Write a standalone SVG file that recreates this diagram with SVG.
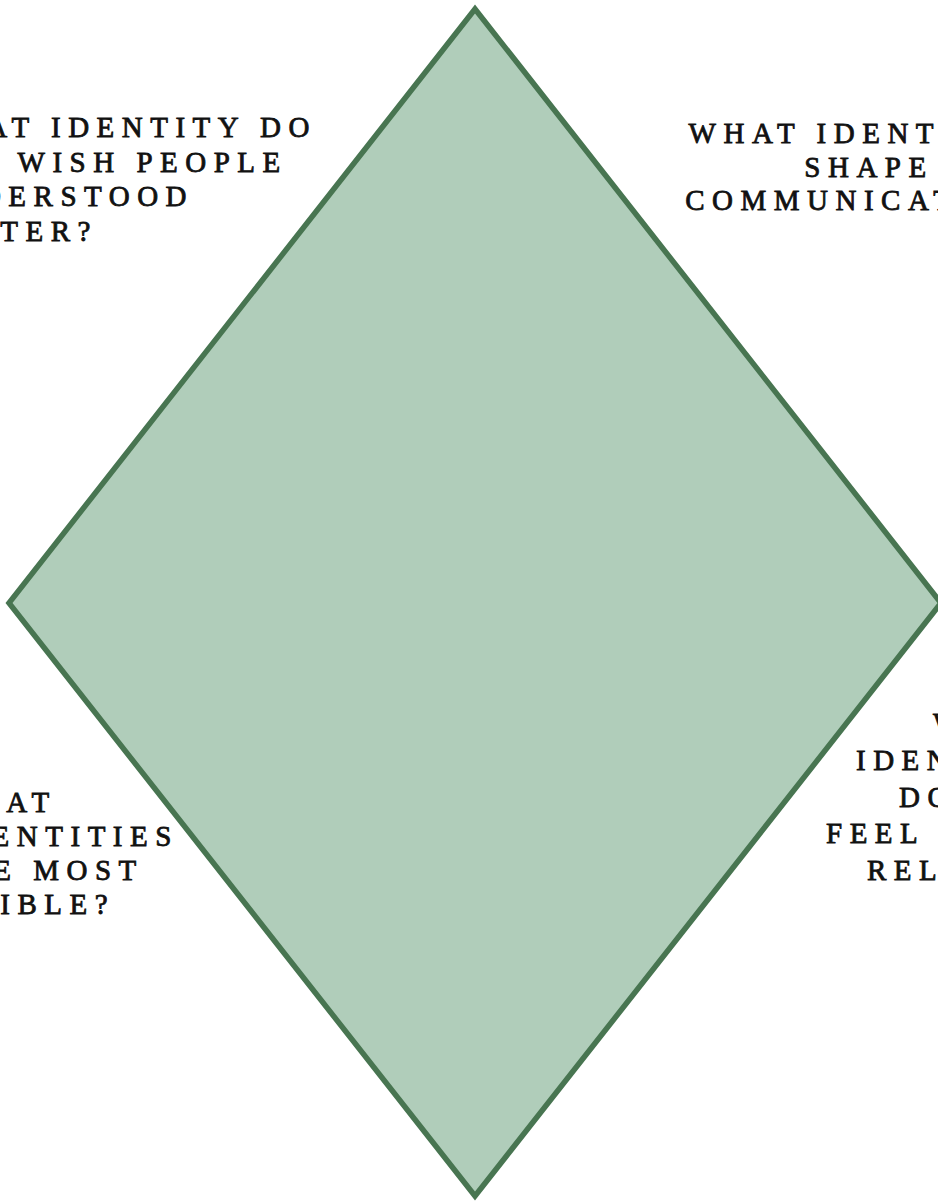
<svg xmlns="http://www.w3.org/2000/svg" width="938" height="1201" viewBox="0 0 938 1201">
  <style>
    .q { font-family: "Liberation Serif", "Times New Roman", serif; font-size: 29px; letter-spacing: 7.5px; fill: #111111; stroke: #111111; stroke-width: 0.8; }
    .diamond { fill: #b0cdba; stroke: #487551; stroke-width: 5.5; stroke-linejoin: miter; }
  </style>
  <rect x="0" y="0" width="938" height="1201" fill="#ffffff"/>
  <g id="diamond">
    <polygon class="diamond" points="475,9 941,603 475,1196 9,603"/>
  </g>
  <g id="connectors"></g>
  <g id="q-top-left">
    <text class="q" x="-77" y="137">WHAT IDENTITY DO</text>
    <text class="q" x="-82" y="171.5">YOU WISH PEOPLE</text>
    <text class="q" x="-77" y="206">UNDERSTOOD</text>
    <text class="q" x="-77" y="240.5">BETTER?</text>
  </g>
  <g id="q-top-right">
    <text class="q" x="869" y="143" text-anchor="middle">WHAT IDENTITIES</text>
    <text class="q" x="869" y="176.5" text-anchor="middle">SHAPE</text>
    <text class="q" x="869" y="210" text-anchor="middle">COMMUNICATION?</text>
  </g>
  <g id="q-bottom-left">
    <text class="q" x="-57" y="812">WHAT</text>
    <text class="q" x="-54" y="846">IDENTITIES</text>
    <text class="q" x="-62" y="880">ARE MOST</text>
    <text class="q" x="-69" y="914">VISIBLE?</text>
  </g>
  <g id="q-bottom-right">
    <text class="q" x="933" y="733">WHAT</text>
    <text class="q" x="856" y="770">IDENTITIES</text>
    <text class="q" x="899" y="807">DO</text>
    <text class="q" x="826" y="843">FEEL</text>
    <text class="q" x="867" y="880">RELEVANT?</text>
  </g>
</svg>
